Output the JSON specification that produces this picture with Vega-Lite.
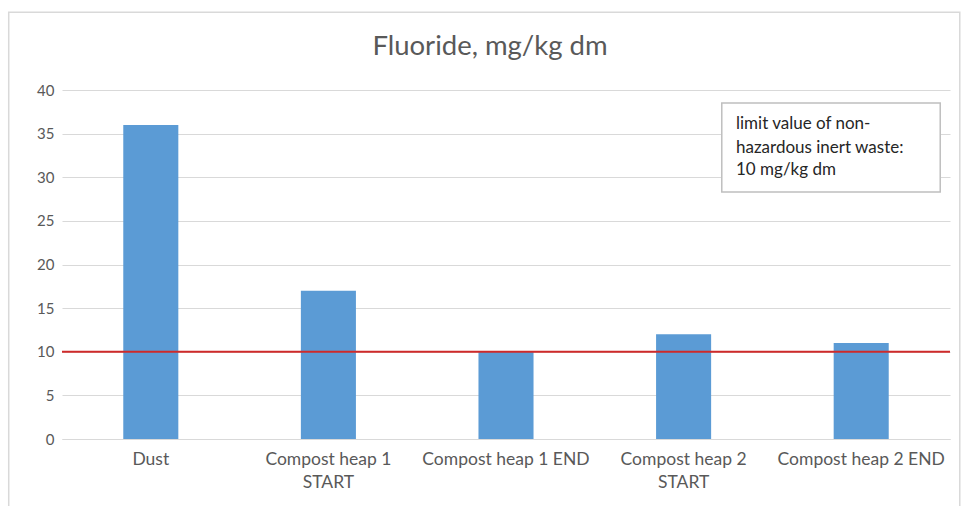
{
  "$schema": "https://vega.github.io/schema/vega-lite/v6.json",
  "autosize": "none",
  "width": 888,
  "height": 349,
  "padding": {"left": 62, "top": 90, "right": 23, "bottom": 67},
  "background": "white",
  "config": {
    "view": {"stroke": null},
    "font": "Lato",
    "axis": {
      "labelFont": "Lato",
      "labelColor": "#595959",
      "labelFontSize": 15,
      "ticks": false,
      "domain": false,
      "gridColor": "#d9d9d9",
      "gridWidth": 1,
      "title": null
    }
  },
  "resolve": {"scale": {"x": "independent"}},
  "layer": [
    {
      "data": {"values": [
        {"sample": "Dust", "fluoride": 36},
        {"sample": "Compost heap 1 START", "fluoride": 17},
        {"sample": "Compost heap 1 END", "fluoride": 10},
        {"sample": "Compost heap 2 START", "fluoride": 12},
        {"sample": "Compost heap 2 END", "fluoride": 11}
      ]},
      "mark": {"type": "bar", "color": "#5b9bd5"},
      "encoding": {
        "x": {
          "field": "sample",
          "type": "nominal",
          "sort": null,
          "scale": {"paddingInner": 0.69, "paddingOuter": 0.345},
          "axis": {
            "labelAngle": 0,
            "labelPadding": 11,
            "labelFontSize": 17.5,
            "labelLineHeight": 23,
            "labelLimit": 300,
            "labelBaseline": "top",
            "grid": false,
            "domain": true,
            "domainColor": "#d9d9d9",
            "labelExpr": "indexof(datum.label, ' START') > 0 ? [replace(datum.label, ' START', ''), 'START'] : datum.label"
          }
        },
        "y": {
          "field": "fluoride",
          "type": "quantitative",
          "scale": {"domain": [0, 40], "nice": false},
          "axis": {"values": [0, 5, 10, 15, 20, 25, 30, 35, 40], "labelPadding": 8, "grid": true}
        }
      }
    },
    {
      "data": {"values": [{"limit": 10}]},
      "mark": {"type": "rule", "color": "#cf2a2a", "strokeWidth": 2},
      "encoding": {"y": {"field": "limit", "type": "quantitative"}}
    },
    {
      "data": {"values": [
        {"x0": -0.06, "x1": 1.011, "y0": 48.9, "y1": -10}
      ]},
      "mark": {"type": "rect", "fill": null, "stroke": "#d9d9d9", "strokeWidth": 1.5, "clip": false},
      "encoding": {
        "x": {"field": "x0", "type": "quantitative", "scale": {"domain": [0, 1], "nice": false, "zero": false}, "axis": null},
        "x2": {"field": "x1"},
        "y": {"field": "y0", "type": "quantitative"},
        "y2": {"field": "y1"}
      }
    },
    {
      "data": {"values": [
        {"x": 0.482, "y": 44.9, "title": "Fluoride, mg/kg dm"}
      ]},
      "mark": {"type": "text", "align": "center", "baseline": "middle", "font": "Lato", "fontSize": 27.5, "color": "#595959", "clip": false},
      "encoding": {
        "x": {"field": "x", "type": "quantitative", "scale": {"domain": [0, 1], "nice": false, "zero": false}, "axis": null},
        "y": {"field": "y", "type": "quantitative"},
        "text": {"field": "title"}
      }
    },
    {
      "data": {"values": [
        {"x0": 0.743, "x1": 0.989, "y0": 38.5, "y1": 28.3}
      ]},
      "mark": {"type": "rect", "fill": "white", "stroke": "#bfbfbf", "strokeWidth": 1.5},
      "encoding": {
        "x": {"field": "x0", "type": "quantitative", "scale": {"domain": [0, 1], "nice": false, "zero": false}, "axis": null},
        "x2": {"field": "x1"},
        "y": {"field": "y0", "type": "quantitative"},
        "y2": {"field": "y1"}
      }
    },
    {
      "data": {"values": [
        {"x": 0.759, "y": 36.1, "line": "limit value of non-"},
        {"x": 0.759, "y": 33.35, "line": "hazardous inert waste:"},
        {"x": 0.759, "y": 30.8, "line": "10 mg/kg dm"}
      ]},
      "mark": {"type": "text", "align": "left", "baseline": "middle", "font": "Lato", "fontSize": 17, "color": "#262626"},
      "encoding": {
        "x": {"field": "x", "type": "quantitative", "scale": {"domain": [0, 1], "nice": false, "zero": false}, "axis": null},
        "y": {"field": "y", "type": "quantitative"},
        "text": {"field": "line"}
      }
    }
  ]
}
